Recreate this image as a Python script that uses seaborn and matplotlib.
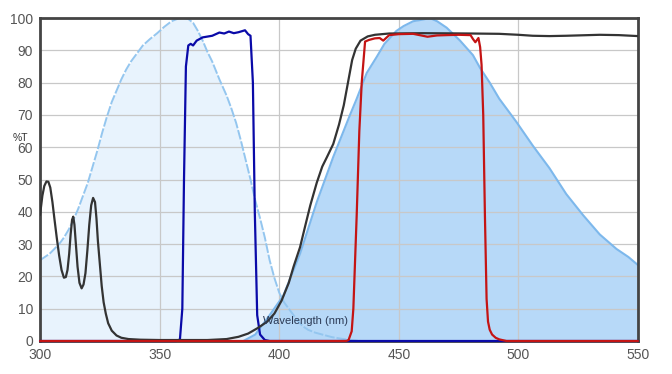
import seaborn as sns
import pandas as pd
import numpy as np
import matplotlib.pyplot as plt

# excitation spectrum (light fill, dashed edge)
ex_nm = [300, 302, 304, 306, 308, 310, 312, 314, 316, 318, 320, 322, 324, 326, 328, 330,
         332, 334, 336, 338, 340, 343, 346, 349, 352, 355, 358, 360, 362, 364, 366, 368,
         370, 372, 375, 378, 380, 382, 384, 386, 388, 390, 392, 394, 396, 398, 400, 402,
         404, 406, 408, 410, 412, 415, 418, 422, 426, 430, 434]
ex_t = [25, 26, 27, 28.5, 30, 32, 34.5, 37.5, 41, 45, 49, 54, 59, 64.5, 69.5, 74,
        77.5, 81, 84, 86.5, 88.5, 91.5, 93.5, 95.3, 97.3, 99, 99.9, 100, 99.7, 98.5, 96, 93,
        89.5, 86.5, 81, 76, 72, 67.5, 62, 56, 50, 43.5, 38, 32, 25, 19.5, 15, 12,
        10, 8, 6, 4.5, 3.5, 2.6, 2, 1.2, 0.7, 0.3, 0]

# emission spectrum (darker fill)
em_nm = [385, 390, 396, 401.7, 408.7, 415.7, 422.6, 429.6, 432.4, 436.6, 440.8, 444, 449,
         452, 456, 460, 463, 466, 470, 475.6, 481, 484, 488, 492, 495, 499, 506, 513,
         520, 527, 534, 541, 546, 550]
em_t = [0, 2, 8, 14, 27, 43, 57, 70, 75, 83, 88, 92, 96,
        97.5, 99, 99.5, 100, 99, 97, 93, 88.5, 84.5, 80, 75, 72, 68, 60.5, 53.5,
        45.5, 39, 33, 28.5, 26, 23.5]

# excitation filter (blue)
exf_nm = [300, 357, 358.5, 359.5, 360.2, 361, 362, 363, 364, 365.5, 368, 372, 375, 377,
          379, 381, 383, 385.7, 387, 388, 389, 389.8, 390.8, 392, 394, 396, 550]
exf_t = [0, 0, 0.5, 10, 50, 85, 91.5, 92, 91.5, 93, 94, 94.5, 95.5, 95.2,
         95.8, 95.3, 95.6, 96.2, 95, 94.5, 80, 40, 8, 2, 0.3, 0, 0]

# dichroic (black)
di_nm = [300, 300.5, 301, 301.8, 302.7, 303.5, 304.3, 305.2, 306, 307, 308, 309, 310,
         310.8, 311.5, 312.2, 312.8, 313.4, 313.9, 314.4, 315, 315.7, 316.5, 317.4, 318.2,
         319, 319.8, 320.6, 321.4, 322.2, 323, 323.6, 324.2, 325, 325.8, 326.6, 327.5,
         328.5, 330, 332, 334, 337, 342, 350, 370, 378, 383, 387, 391, 395, 398, 401, 404,
         406, 408.7, 411, 413, 415.7, 418, 420, 422.6, 425, 427, 429, 430.5, 432, 434,
         437, 440, 446, 460, 480, 492, 500, 506, 513, 520, 534, 542, 550]
di_t = [39, 42, 45, 48, 49.4, 49.3, 47.5, 43, 38, 32, 26.5, 22, 19.6,
        19.8, 22, 27, 33, 37.5, 38.5, 36, 30, 23, 18, 16.3, 17.5,
        21, 28, 36, 42, 44.3, 43, 38, 31, 24, 17, 12, 8.5,
        5.5, 3.2, 1.7, 1, 0.6, 0.4, 0.3, 0.3, 0.6, 1.3, 2.3, 4, 6, 8.5, 12.5, 18,
        23, 29, 36, 42, 49, 54, 57, 61, 67, 73, 81, 87, 90.5, 93,
        94.3, 94.8, 95.2, 95.3, 95.2, 95.1, 94.8, 94.5, 94.4, 94.5, 94.8, 94.7, 94.4]

# emission filter (red)
emf_nm = [300, 428, 429, 430.3, 431, 432.4, 433.5, 434.5, 435.9, 437.5, 440, 442, 443.5,
          446, 450, 456, 460, 462, 466, 470, 475, 480, 481, 482, 483.3, 484, 484.6, 485.3,
          486, 486.7, 487.3, 488, 489, 490.5, 492, 495, 550]
emf_t = [0, 0, 0.3, 3, 10, 39, 65, 80, 92.7, 93.2, 93.7, 93.8, 93,
         94.7, 95, 95.1, 94.5, 94.2, 94.6, 94.7, 94.8, 94.7, 93.5, 92.5, 93.8, 91, 85.5, 70,
         39, 13, 6, 3.5, 2, 1, 0.5, 0, 0]

sns.set_style("white")
plt.rcParams['font.family'] = ['Liberation Sans', 'DejaVu Sans']

fig = plt.figure(figsize=(6.72, 3.74), dpi=100)
ax = fig.add_axes([40 / 672, 33 / 374, 598 / 672, 323 / 374])

ax.fill_between(ex_nm, ex_t, 0, color="#e8f3fd", lw=0)
ax.fill_between(em_nm, em_t, 0, color="#b3d7f8", alpha=0.95, lw=0)
sns.lineplot(x=ex_nm, y=ex_t, ax=ax, color="#94c6ef", lw=1.4, ls=(0, (5, 1)))
sns.lineplot(x=em_nm, y=em_t, ax=ax, color="#7db8ec", lw=1.5)
sns.lineplot(x=exf_nm, y=exf_t, ax=ax, color="#0a0aa8", lw=1.6, clip_on=False, zorder=3)
sns.lineplot(x=di_nm, y=di_t, ax=ax, color="#333333", lw=1.6, zorder=3)
sns.lineplot(x=emf_nm, y=emf_t, ax=ax, color="#c41414", lw=1.6, clip_on=False, zorder=4)

ax.set_xlim(300, 550)
ax.set_ylim(0, 100)
ax.set_xticks(range(300, 551, 50))
ax.set_yticks(range(0, 101, 10))
ax.set_axisbelow('line')
ax.grid(True, color="#c8c8c8", lw=0.9)
ax.tick_params(length=0, labelsize=10, labelcolor="#555555", pad=5)
ax.set_xlabel("")
ax.set_ylabel("")
for s in ax.spines.values():
    s.set_color("#444444")
    s.set_linewidth(2)

ax.text(-0.032, 62.8, "%T", transform=ax.get_yaxis_transform(), fontsize=7.5,
        color="#333333", ha="center", va="center")
ax.text(393.2, 6.2, "Wavelength (nm)", fontsize=8, color="#2b3a55", ha="left", va="center",
        zorder=5)

fig.savefig("out.png", dpi=100)
